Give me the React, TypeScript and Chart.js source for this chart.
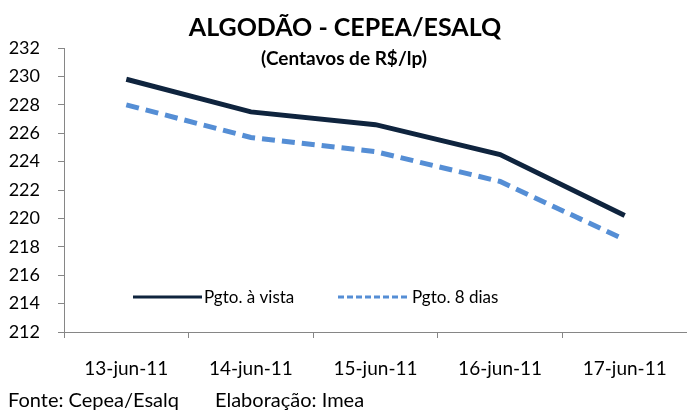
import React, { useEffect, useRef } from "react";
import { Chart, registerables } from "chart.js";

Chart.register(...registerables);

const categories = ["13-jun-11", "14-jun-11", "15-jun-11", "16-jun-11", "17-jun-11"];
const avista = [229.8, 227.5, 226.6, 224.5, 220.2];
const oitoDias = [228.0, 225.7, 224.7, 222.6, 218.5];
const seriesNames = ["Pgto. à vista", "Pgto. 8 dias"];
const titleText = "ALGODÃO - CEPEA/ESALQ";
const subtitleText = "(Centavos de R$/lp)";
const footerSource = "Fonte: Cepea/Esalq";
const footerAuthor = "Elaboração: Imea";

const FONT = "Lato, 'Open Sans', sans-serif";
const SOLID = "#0f243e";
const DASHED = "#558ed5";

const decorPlugin = {
  id: "decor",
  afterDraw(chart: any) {
    const ctx = chart.ctx;
    const ca = chart.chartArea;
    ctx.save();
    ctx.fillStyle = "#000";
    ctx.textAlign = "center";
    ctx.textBaseline = "middle";
    ctx.font = `bold 25px ${FONT}`;
    ctx.fillText(titleText, 345, 28);
    ctx.font = `bold 19px ${FONT}`;
    ctx.fillText(subtitleText, 344, 59);

    ctx.textAlign = "left";
    ctx.font = `20px ${FONT}`;
    ctx.fillText(footerSource, 8, 401);
    ctx.fillText(footerAuthor, 215, 401);

    // legend
    const ly = ca.top + (ca.bottom - ca.top) * 0.877;
    ctx.lineWidth = 3;
    ctx.strokeStyle = SOLID;
    ctx.setLineDash([]);
    ctx.beginPath();
    ctx.moveTo(133, ly);
    ctx.lineTo(202, ly);
    ctx.stroke();
    ctx.font = `17px ${FONT}`;
    ctx.fillStyle = "#000";
    ctx.fillText(seriesNames[0], 204, ly);
    ctx.strokeStyle = DASHED;
    ctx.setLineDash([6, 3]);
    ctx.beginPath();
    ctx.moveTo(338, ly);
    ctx.lineTo(408, ly);
    ctx.stroke();
    ctx.setLineDash([]);
    ctx.fillText(seriesNames[1], 412, ly);
    ctx.restore();
  },
};

export default function App() {
  const ref = useRef<HTMLCanvasElement>(null);
  useEffect(() => {
    document.body.style.margin = "0";
    const chart = new Chart(ref.current!, {
      type: "line",
      data: {
        labels: categories,
        datasets: [
          {
            label: seriesNames[0],
            data: avista,
            borderColor: SOLID,
            borderWidth: 5,
            pointRadius: 0,
            tension: 0,
          },
          {
            label: seriesNames[1],
            data: oitoDias,
            borderColor: DASHED,
            borderWidth: 5,
            borderDash: [13, 7],
            pointRadius: 0,
            tension: 0,
          },
        ],
      },
      options: {
        animation: false,
        responsive: false,
        layout: { padding: { top: 48, left: 0, right: 0, bottom: 0 } },
        plugins: { legend: { display: false }, tooltip: { enabled: false }, title: { display: false } },
        scales: {
          x: {
            offset: true,
            grid: { offset: true, drawOnChartArea: false, tickLength: 6, color: "#868686" },
            border: { color: "#868686", width: 1 },
            ticks: { color: "#000", font: { size: 19, family: FONT }, padding: 19, maxRotation: 0 },
            afterFit(scale: any) {
              scale.height = 415 - 332;
            },
          },
          y: {
            min: 212,
            max: 232,
            ticks: { stepSize: 2, color: "#000", font: { size: 18, family: FONT }, padding: 18 },
            grid: { drawOnChartArea: false, tickLength: 6, color: "#868686" },
            border: { color: "#868686", width: 1 },
            afterFit(scale: any) {
              scale.width = 64;
            },
          },
        },
      },
      plugins: [decorPlugin],
    });
    return () => chart.destroy();
  }, []);
  return (
    <div style={{ position: "absolute", left: 0, top: 0, width: 687, height: 415 }}>
      <canvas ref={ref} width={687} height={415} />
    </div>
  );
}
